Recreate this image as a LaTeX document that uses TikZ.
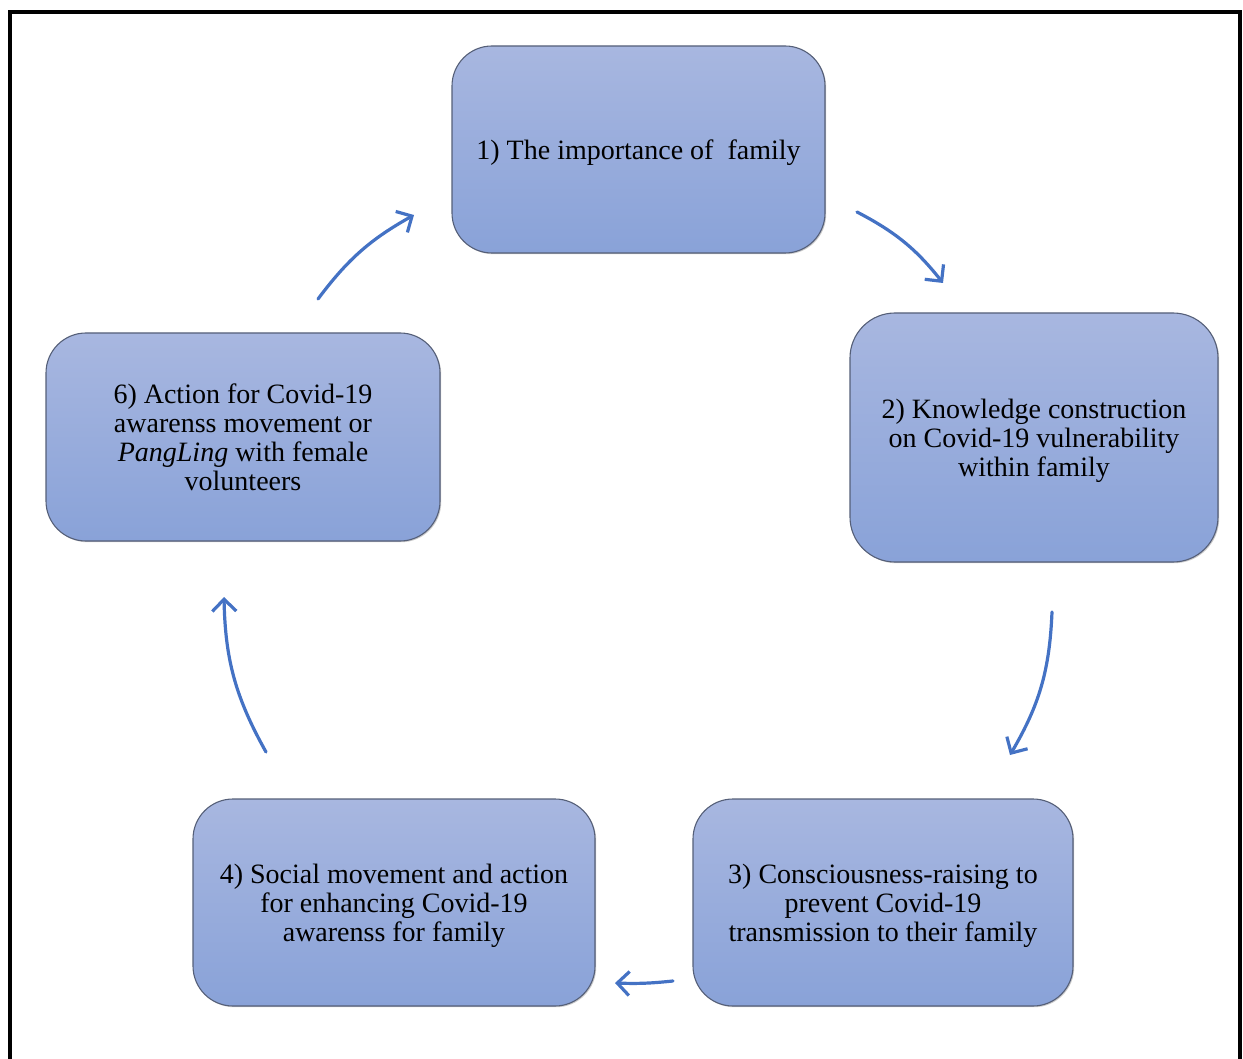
\documentclass[tikz,border=0pt]{standalone}
\usepackage{fontspec}
\setmainfont{Liberation Serif}
\usetikzlibrary{arrows.meta,shadows}
\definecolor{boxtop}{RGB}{168,183,224}
\definecolor{boxbot}{RGB}{137,162,216}
\definecolor{boxline}{RGB}{85,95,120}
\definecolor{arrowblue}{RGB}{68,114,196}
\tikzset{
  stagebox/.style={rectangle, rounded corners=40pt, draw=boxline, line width=1.1pt,
    top color=boxtop, bottom color=boxbot, inner sep=0pt,
    drop shadow={shadow xshift=1.2pt, shadow yshift=-1.2pt, opacity=0.35, fill=black!60}},
  stagetext/.style={align=center, inner sep=0pt, yshift=-3pt,
    font=\fontsize{28}{29}\selectfont},
  cyclearrow/.style={draw=arrowblue, line width=3.2pt, line cap=round,
    -{Straight Barb[length=12pt, width=24pt, line width=3.2pt]}},
  framepen/.style={line width=4pt, black}
}
\begin{document}
\begin{tikzpicture}[x=1pt,y=1pt]
\useasboundingbox (0,0) rectangle (1243,-1059);
% outer frame (open at the bottom)
\draw[framepen] (9.5,-1059) -- (9.5,-12.5) -- (1239.5,-12.5) -- (1239.5,-1059);
% boxes
\node[stagebox, minimum width=373pt, minimum height=207pt] (b1) at (638.5,-149.5) {};
\node[stagebox, minimum width=368pt, minimum height=249pt, rounded corners=45pt] (b2) at (1034,-437.5) {};
\node[stagebox, minimum width=380pt, minimum height=207pt] (b3) at (883,-902.5) {};
\node[stagebox, minimum width=402pt, minimum height=207pt] (b4) at (394,-902.5) {};
\node[stagebox, minimum width=394pt, minimum height=208pt] (b6) at (243,-437) {};
% texts
\node[stagetext] (t1) at (b1.center) {1) The importance of~ family};
\node[stagetext] (t2) at (b2.center) {2) Knowledge construction\\on Covid-19 vulnerability\\within family};
\node[stagetext] (t3) at (b3.center) {3) Consciousness-raising to\\prevent Covid-19\\transmission to their family};
\node[stagetext] (t4) at (b4.center) {4) Social movement and action\\for enhancing Covid-19\\awarenss for family};
\node[stagetext, yshift=3pt] (t6) at (b6.center) {6) Action for Covid-19\\awarenss movement or\\\textit{PangLing} with female\\volunteers};
% arrow end points
\coordinate (a1s) at (857,-212);
\coordinate (a1e) at (943,-283);
\coordinate (a2s) at (1052,-612);
\coordinate (a2e) at (1010,-755);
\coordinate (a3s) at (673,-981);
\coordinate (a3e) at (615,-983);
\coordinate (a4s) at (266,-752);
\coordinate (a4e) at (224,-597);
\coordinate (a6s) at (318,-299);
\coordinate (a6e) at (414,-215);
% arrows
\draw[cyclearrow] (a1s) to[bend left=12] (a1e);
\draw[cyclearrow] (a2s) to[bend left=14] (a2e);
\draw[cyclearrow] (a3s) to[bend left=4] (a3e);
\draw[cyclearrow] (a4s) to[bend left=14] (a4e);
\draw[cyclearrow] (a6s) to[bend left=12] (a6e);
\end{tikzpicture}
\end{document}
